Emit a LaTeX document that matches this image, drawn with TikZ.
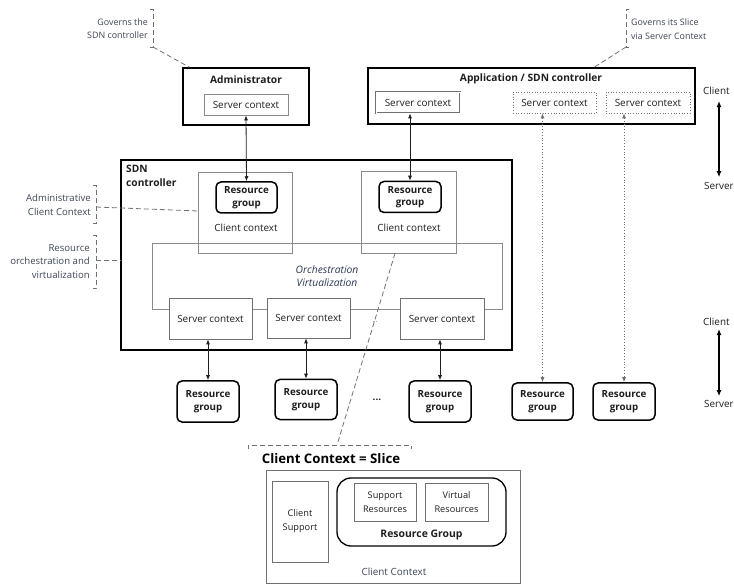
\documentclass[tikz,border=0pt]{standalone}
\usepackage{fontspec}
\setmainfont{Open Sans}
\usetikzlibrary{arrows.meta}
\definecolor{tc}{HTML}{1E1E1E}
\definecolor{ac}{HTML}{3C4656}
\definecolor{gc}{HTML}{8A8A8A}
\definecolor{dc}{HTML}{707070}
\definecolor{oc}{HTML}{2A3550}
\tikzset{
  fs/.style={font=\fontsize{9.9}{12}\selectfont, text=tc},
  annot/.style={font=\fontsize{8.9}{13.5}\selectfont, text=ac, inner sep=0pt},
  gbox/.style={draw=gc, line width=0.8pt, inner sep=0pt, fs},
  sbox/.style={draw=dc, line width=0.8pt, inner sep=0pt, fill=white, fs},
  dbox/.style={draw=dc, line width=0.7pt, dotted, inner sep=0pt, fs},
  bigbox/.style={draw=black, line width=1.8pt, inner sep=0pt},
  rgbox/.style={draw=black, line width=1.5pt, rounded corners=5pt, inner sep=0pt, align=center,
     font=\fontsize{9.8}{12.5}\selectfont\bfseries, text=tc},
  ttl/.style={font=\fontsize{10.2}{12}\selectfont\bfseries, text=tc, inner sep=0pt},
  bracket/.style={draw=dc, line width=0.8pt, dash pattern=on 5pt off 3pt},
  dlink/.style={draw=tc, line width=0.8pt, {Latex[length=5pt,width=4pt]}-{Latex[length=5pt,width=4pt]}},
  dotlink/.style={draw=dc, line width=0.8pt, dotted, {Latex[length=5pt,width=4pt]}-{Latex[length=5pt,width=4pt]}},
  csarrow/.style={draw=black, line width=1.2pt, {Latex[length=6pt,width=5pt]}-{Latex[length=6pt,width=5pt]}},
}
\begin{document}
\begin{tikzpicture}[x=1pt,y=-1pt]
\useasboundingbox (0,0) rectangle (734,585);

% ---------- Administrator ----------
\node[bigbox, minimum width=126pt, minimum height=57pt] (adm) at (246,96.5) {};
\node[ttl] (admt) at (246,80) {Administrator};
\node[gbox, minimum width=84pt, minimum height=21pt] (admsc) at (246,104.5) {Server context};

% ---------- Application / SDN controller ----------
\node[bigbox, minimum width=327pt, minimum height=56pt] (app) at (531.5,96) {};
\node[ttl] (appt) at (531,79) {Application / SDN controller};
\node[sbox, draw=dc, double=white, double distance=0.6pt, minimum width=84pt, minimum height=21pt] (appsc1) at (418,102.5) {Server context};
\node[dbox, minimum width=83pt, minimum height=21pt] (appsc2) at (554.5,102.5) {Server context};
\node[dbox, minimum width=84pt, minimum height=21pt] (appsc3) at (648,102.5) {Server context};

% ---------- SDN controller ----------
\node[bigbox, minimum width=391pt, minimum height=190pt] (sdn) at (316.5,255) {};
\node[ttl, align=left, anchor=north west, font=\fontsize{10.2}{14.5}\selectfont\bfseries] (sdnt) at (126,164.5) {SDN\\controller};

% orchestration box
\node[draw=gc, line width=0.8pt, minimum width=350pt, minimum height=66pt, inner sep=0pt] (orch) at (327,276) {};
\node[font=\fontsize{10.3}{13.5}\selectfont\itshape, text=oc, align=center, inner sep=0pt] (orcht) at (327,276) {Orchestration\\Virtualization};

% client contexts
\node[gbox, minimum width=94pt, minimum height=81pt] (cc1) at (245,212.5) {};
\node[rgbox, minimum width=61pt, minimum height=31pt] (rg1) at (246.5,197.5) {Resource\\group};
\node[fs, inner sep=0pt] (cc1t) at (246,228) {Client context};
\node[gbox, minimum width=95pt, minimum height=82pt] (cc2) at (408.5,212) {};
\node[rgbox, minimum width=62pt, minimum height=31pt] (rg2) at (410,197) {Resource\\group};
\node[fs, inner sep=0pt] (cc2t) at (409,228) {Client context};

% server contexts
\node[sbox, minimum width=83pt, minimum height=41pt] (sc1) at (210.5,318.5) {Server context};
\node[sbox, minimum width=83pt, minimum height=40pt] (sc2) at (308.5,318) {Server context};
\node[sbox, minimum width=84pt, minimum height=41pt] (sc3) at (442,318.5) {Server context};

\node[font=\fontsize{6}{6}\selectfont, text=tc, inner sep=0pt] (dots1) at (375,322) {...};

% ---------- bottom resource groups ----------
\node[rgbox, minimum width=62pt, minimum height=41pt] (brg1) at (208,401.5) {Resource\\group};
\node[rgbox, minimum width=62pt, minimum height=40pt] (brg2) at (306,399.5) {Resource\\group};
\node[font=\fontsize{10}{10}\selectfont\bfseries, text=tc, inner sep=0pt] (dots2) at (377,400) {...};
\node[rgbox, minimum width=62pt, minimum height=41pt] (brg3) at (440,401.5) {Resource\\group};
\node[rgbox, minimum width=61pt, minimum height=37pt] (brg4) at (542.5,401.5) {Resource\\group};
\node[rgbox, minimum width=62pt, minimum height=37pt] (brg5) at (624,401.5) {Resource\\group};

% ---------- links ----------
\draw[dlink] (admsc.south) -- (rg1.north);
\draw[dlink] (appsc1.south -| rg2.north) -- (rg2.north);
\draw[dlink] (sc1.south -| brg1.north) -- (brg1.north);
\draw[dlink] (sc2.south -| brg2.north) -- (brg2.north);
\draw[dlink] (sc3.south -| brg3.north) -- (brg3.north);
\draw[dotlink] (appsc2.south -| brg4.north) -- (brg4.north);
\draw[dotlink] (appsc3.south -| brg5.north) -- (brg5.north);

% ---------- Client / Server indicators ----------
\node[fs, anchor=west, inner sep=0pt] (cl1) at (703,91) {Client};
\node[fs, anchor=west, inner sep=0pt] (sv1) at (704,186) {Server};
\draw[csarrow] ([yshift=-6pt]cl1.south -| 719,0) coordinate (c1a) -- ([yshift=5pt]sv1.north -| 719,0) coordinate (c1b);
\node[fs, anchor=west, inner sep=0pt] (cl2) at (703,322) {Client};
\node[fs, anchor=west, inner sep=0pt] (sv2) at (704,404) {Server};
\draw[csarrow] ([yshift=-3pt]cl2.south -| 719,0) -- ([yshift=4pt]sv2.north -| 719,0);

% ---------- annotations ----------
\node[annot, align=right, anchor=east] (gov1) at (148,28.5) {Governs the\\SDN controller};
\coordinate (b1a) at (153,9);
\coordinate (b1b) at (153,47);
\draw[bracket] (150,9) -- (b1a) -- (b1b) -- (150,47);
\draw[bracket] (b1b) -- ([xshift=7pt]adm.north west);

\node[annot, align=left, anchor=west] (gov2) at (631,29) {Governs its Slice\\via Server Context};
\coordinate (b2a) at (626,9);
\coordinate (b2b) at (626,47);
\draw[bracket] (629,9) -- (b2a) -- (b2b) -- (629,47);
\draw[bracket] (b2b) -- (593,68);

\node[annot, align=right, anchor=east, font=\fontsize{9.6}{13.5}\selectfont] (acc) at (91,205) {Administrative\\Client Context};
\coordinate (b3b) at (96,207);
\draw[bracket] (93,185) -- (96,185) -- (96,223) -- (93,223);
\draw[bracket] (b3b) -- (cc1.west |- 0,211);

\node[annot, align=right, anchor=east, font=\fontsize{9.6}{13.5}\selectfont] (roc) at (90,261.5) {Resource\\orchestration and\\virtualization};
\coordinate (b4b) at (96,260);
\draw[bracket] (93,235) -- (96,235) -- (96,288) -- (93,288);
\draw[bracket] (b4b) -- (sdn.west |- b4b);

% ---------- slice detail ----------
\coordinate (slc) at (337,445);
\draw[bracket] (cc2.south -| 395,0) -- (slc);
\draw[bracket] (248,449) -- (248,445) -- (411,445) -- (411,449);
\node[font=\fontsize{13.2}{15}\selectfont\bfseries, text=black, inner sep=0pt] (slt) at (331,459) {Client Context = Slice};

\node[draw=dc, line width=0.8pt, minimum width=254pt, minimum height=113pt, inner sep=0pt] (ccb) at (393,526.5) {};
\node[fs, text=ac, inner sep=0pt, font=\fontsize{9.9}{12}\selectfont] (ccbt) at (394,572) {Client Context};
\node[draw=dc, line width=0.8pt, minimum width=56pt, minimum height=81pt, inner sep=0pt, align=center,
      font=\fontsize{9.2}{14}\selectfont, text=tc] (csup) at (300,521.5) {Client\\Support};
\node[draw=black, line width=1.3pt, rounded corners=14pt, minimum width=169pt, minimum height=68pt, inner sep=0pt] (rgb) at (421.5,512) {};
\node[draw=dc, line width=0.8pt, minimum width=62pt, minimum height=38pt, inner sep=0pt, align=center,
      font=\fontsize{9.2}{14}\selectfont, text=tc] (supr) at (385,502) {Support\\Resources};
\node[draw=dc, line width=0.8pt, minimum width=63pt, minimum height=38pt, inner sep=0pt, align=center,
      font=\fontsize{9.2}{14}\selectfont, text=tc] (virr) at (456.5,502) {Virtual\\Resources};
\node[font=\fontsize{10.4}{12}\selectfont\bfseries, text=tc, inner sep=0pt] (rgbt) at (421.5,535) {Resource Group};
\end{tikzpicture}
\end{document}
